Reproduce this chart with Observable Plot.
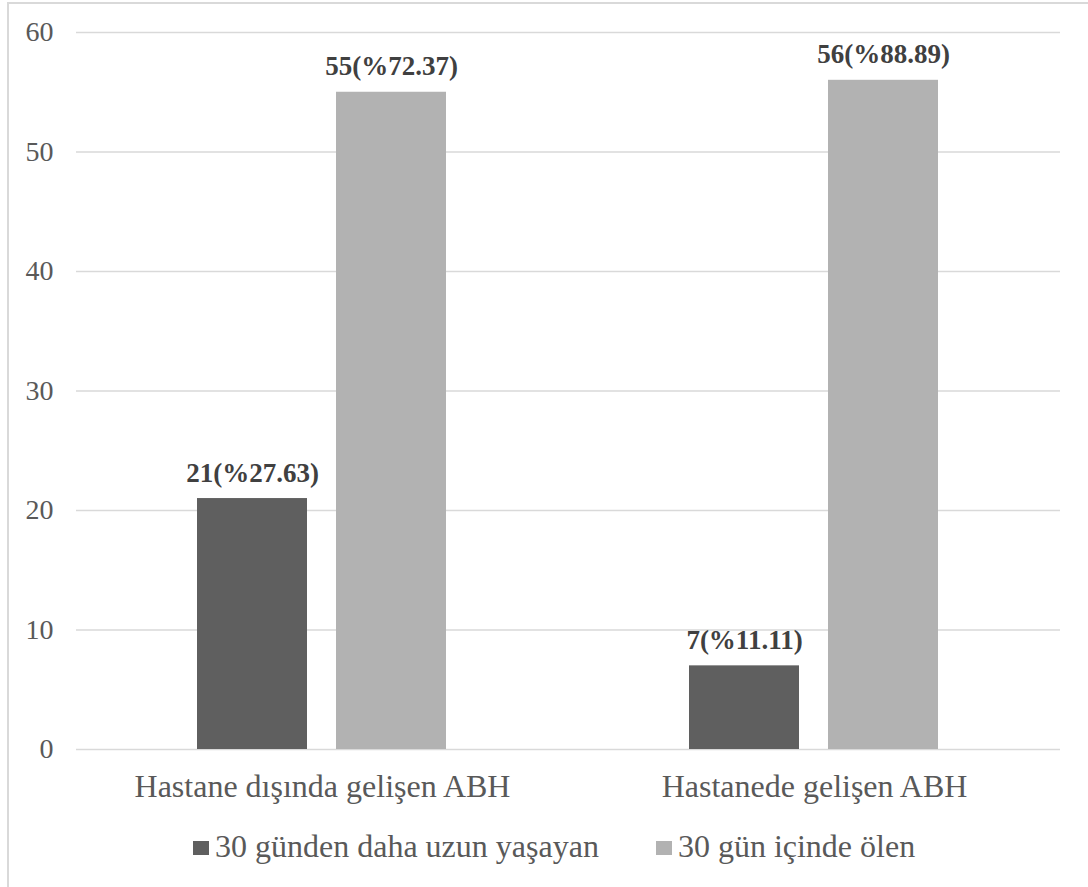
<!DOCTYPE html>
<html>
<head>
<meta charset="utf-8">
<script src="https://cdn.jsdelivr.net/npm/d3@7"></script>
<script src="https://cdn.jsdelivr.net/npm/@observablehq/plot@0.6"></script>
<style>
  html, body { margin: 0; padding: 0; background: #fff; }
  body { width: 1088px; height: 887px; position: relative; overflow: hidden; font-family: 'Liberation Serif', serif; }
  #frame { position: absolute; left: 7px; top: 2px; width: 1090px; height: 900px; border: 2px solid #d9d9d9; box-sizing: border-box; }
  #chart { position: absolute; left: 0; top: 0; }
  #legend { position: absolute; left: 193px; top: 826px; display: flex; align-items: center; font-family: 'Liberation Serif', serif; font-size: 32px; line-height: 40px; color: #595959; white-space: nowrap; }
  .item { display: flex; align-items: center; }
  .sw { width: 16px; height: 14px; margin-right: 6px; margin-top: 4px; }
</style>
</head>
<body>
<div id="frame"></div>
<div id="chart"></div>
<div id="legend"></div>
<script>
const groups = ["Hastane dışında gelişen ABH", "Hastanede gelişen ABH"];
const series = ["30 günden daha uzun yaşayan", "30 gün içinde ölen"];
const survived = [21, 7];
const died = [55, 56];
const survivedLabels = ["21(%27.63)", "7(%11.11)"];
const diedLabels = ["55(%72.37)", "56(%88.89)"];
const yTicks = [0, 10, 20, 30, 40, 50, 60];
const colors = ["#5f5f5f", "#b2b2b2"];

const data = [];
groups.forEach((g, i) => {
  data.push({group: g, series: series[0], value: survived[i], label: survivedLabels[i]});
  data.push({group: g, series: series[1], value: died[i], label: diedLabels[i]});
});

const plot = Plot.plot({
  width: 1088,
  height: 820,
  marginLeft: 75,
  marginRight: 28,
  marginTop: 32,
  marginBottom: 71,
  style: "font-family: 'Liberation Serif', serif; font-size: 27px; color: #595959; background: transparent; overflow: visible;",
  fx: {domain: groups, padding: 0, label: null},
  x: {domain: series, paddingInner: 0.208, paddingOuter: 0.869, axis: null},
  y: {domain: [0, 60], label: null},
  color: {domain: series, range: colors},
  marks: [
    Plot.gridY(yTicks, {stroke: "#d9d9d9", strokeOpacity: 1, strokeWidth: 1.5}),
    Plot.axisY(yTicks, {tickSize: 0, tickPadding: 23, fill: "#595959", fontSize: 28, label: null}),
    Plot.axisFx({anchor: "bottom", tickSize: 0, tickPadding: 25, fill: "#595959", fontSize: 32, label: null}),
    Plot.barY(data, {fx: "group", x: "series", y: "value", fill: "series"}),
    Plot.text(data, {fx: "group", x: "series", y: "value", text: "label", fontWeight: "bold", fontSize: 27, fill: "#404040", lineAnchor: "bottom", dy: -17})
  ]
});
document.getElementById("chart").appendChild(plot);

const legend = document.getElementById("legend");
series.forEach((s, i) => {
  const item = document.createElement("div");
  item.className = "item";
  if (i > 0) item.style.marginLeft = "57px";
  const sw = document.createElement("div");
  sw.className = "sw";
  sw.style.background = colors[i];
  const t = document.createElement("span");
  t.textContent = s;
  item.appendChild(sw);
  item.appendChild(t);
  legend.appendChild(item);
});
</script>
</body>
</html>
